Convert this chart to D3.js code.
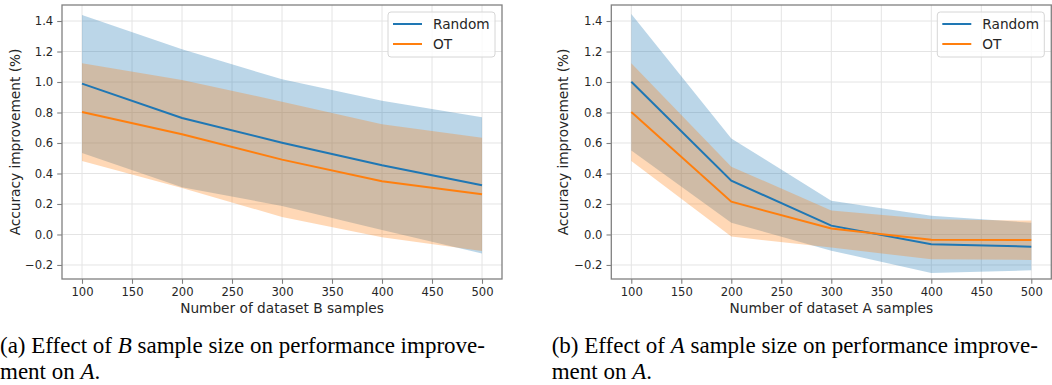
<!DOCTYPE html>
<html>
<head>
<meta charset="utf-8">
<script src="https://cdn.jsdelivr.net/npm/d3@7"></script>
<style>
  html, body { margin: 0; padding: 0; background: #fff; }
  svg { display: block; }
</style>
</head>
<body>
<svg id="chart" width="1052" height="385"></svg>
<script>
// ---------- data ----------
const xValues = [100, 200, 300, 400, 500];
const xTicks = [100, 150, 200, 250, 300, 350, 400, 450, 500];
const yTicks = [-0.2, 0.0, 0.2, 0.4, 0.6, 0.8, 1.0, 1.2, 1.4];
const seriesNames = ["Random", "OT"];

// Panel (a): varying dataset B samples
const randomMeanB  = [0.989, 0.764, 0.602, 0.454, 0.323];
const randomUpperB = [1.440, 1.214, 1.018, 0.877, 0.769];
const randomLowerB = [0.534, 0.310, 0.187, 0.030, -0.125];
const otMeanB      = [0.803, 0.657, 0.491, 0.349, 0.264];
const otUpperB     = [1.123, 1.013, 0.871, 0.723, 0.635];
const otLowerB     = [0.482, 0.305, 0.115, -0.018, -0.108];

// Panel (b): varying dataset A samples
const randomMeanA  = [1.002, 0.353, 0.058, -0.064, -0.080];
const randomUpperA = [1.446, 0.630, 0.222, 0.123, 0.077];
const randomLowerA = [0.550, 0.077, -0.106, -0.252, -0.235];
const otMeanA      = [0.803, 0.215, 0.039, -0.034, -0.036];
const otUpperA     = [1.123, 0.445, 0.157, 0.100, 0.091];
const otLowerA     = [0.482, -0.014, -0.085, -0.163, -0.167];

const xLabels = ["Number of dataset B samples", "Number of dataset A samples"];
const yLabel = "Accuracy improvement (%)";

// ---------- styles ----------
const colors = ["#1f77b4", "#ff7f0e"];
const textColor = "#262626";
const sans = "'DejaVu Sans', sans-serif";

const svg = d3.select("#chart");

const panels = [
  { left: 62, right: 502, yLabelX: 15,
    random: [randomMeanB, randomLowerB, randomUpperB],
    ot: [otMeanB, otLowerB, otUpperB], xLabel: xLabels[0] },
  { left: 611.3, right: 1051.3, yLabelX: 563,
    random: [randomMeanA, randomLowerA, randomUpperA],
    ot: [otMeanA, otLowerA, otUpperA], xLabel: xLabels[1] }
];
const plotTop = 5, plotBottom = 279;

panels.forEach(p => {
  const x = d3.scaleLinear().domain([80, 520]).range([p.left, p.right]);
  const y = d3.scaleLinear().domain([-0.292, 1.505]).range([plotBottom, plotTop]);
  const g = svg.append("g");

  // grid
  g.append("g").selectAll("line").data(xTicks).join("line")
    .attr("x1", d => x(d)).attr("x2", d => x(d))
    .attr("y1", plotTop).attr("y2", plotBottom)
    .attr("stroke", "#e4e4e4").attr("stroke-width", 1);
  g.append("g").selectAll("line").data(yTicks).join("line")
    .attr("x1", p.left).attr("x2", p.right)
    .attr("y1", d => y(d)).attr("y2", d => y(d))
    .attr("stroke", "#e4e4e4").attr("stroke-width", 1);

  const sets = [p.random, p.ot];
  // fills
  sets.forEach((s, i) => {
    const area = d3.area()
      .x((d, j) => x(xValues[j]))
      .y0((d, j) => y(s[1][j]))
      .y1((d, j) => y(s[2][j]));
    g.append("path").datum(xValues).attr("d", area)
      .attr("fill", colors[i]).attr("fill-opacity", 0.3);
  });
  // lines
  sets.forEach((s, i) => {
    const line = d3.line()
      .x((d, j) => x(xValues[j]))
      .y((d, j) => y(s[0][j]));
    g.append("path").datum(xValues).attr("d", line)
      .attr("fill", "none").attr("stroke", colors[i]).attr("stroke-width", 2);
  });

  // axes
  const xAxis = d3.axisBottom(x).tickValues(xTicks).tickSize(4.8).tickPadding(3.5)
    .tickFormat(d3.format("d"));
  const gx = g.append("g").attr("transform", `translate(0,${plotBottom})`).call(xAxis);
  const yAxis = d3.axisLeft(y).tickValues(yTicks).tickSize(4.8).tickPadding(4)
    .tickFormat(d => d3.format(".1f")(d).replace("-", "\u2212"));
  const gy = g.append("g").attr("transform", `translate(${p.left},0)`).call(yAxis);
  [gx, gy].forEach(a => {
    a.select(".domain").remove();
    a.selectAll(".tick line").attr("stroke", "#808080").attr("stroke-width", 1.1);
    a.selectAll(".tick text").attr("fill", textColor)
      .style("font-family", sans).style("font-size", "11.6px");
  });

  // frame
  g.append("rect").attr("x", p.left).attr("y", plotTop)
    .attr("width", p.right - p.left).attr("height", plotBottom - plotTop)
    .attr("fill", "none").attr("stroke", "#808080").attr("stroke-width", 1.3);

  // axis labels
  g.append("text").attr("x", (p.left + p.right) / 2).attr("y", 313)
    .attr("text-anchor", "middle").attr("fill", textColor)
    .style("font-family", sans).style("font-size", "13.7px").text(p.xLabel);
  g.append("text").attr("transform", `translate(${p.yLabelX + 5},${(plotTop + plotBottom) / 2}) rotate(-90)`)
    .attr("text-anchor", "middle").attr("fill", textColor)
    .style("font-family", sans).style("font-size", "13.7px").text(yLabel);

  // legend
  const lx = p.right - 114, ly = 12;
  const lg = g.append("g");
  lg.append("rect").attr("x", lx).attr("y", ly).attr("width", 107).attr("height", 45)
    .attr("rx", 3).attr("fill", "#fff").attr("fill-opacity", 0.8)
    .attr("stroke", "#d6d6d6").attr("stroke-width", 1);
  seriesNames.forEach((name, i) => {
    const yy = ly + 12 + i * 20;
    lg.append("line").attr("x1", lx + 5).attr("x2", lx + 34)
      .attr("y1", yy).attr("y2", yy).attr("stroke", colors[i]).attr("stroke-width", 2);
    lg.append("text").attr("x", lx + 45).attr("y", yy + 5).attr("fill", textColor)
      .style("font-family", sans).style("font-size", "13.7px").text(name);
  });
});

// captions
const serif = "'Liberation Serif', 'Times New Roman', serif";
const captions = [
  { x: 0, parts: [["(a) Effect of ", false], ["B", true], [" sample size on performance improve-", false]] },
  { x: 551.7, parts: [["(b) Effect of ", false], ["A", true], [" sample size on performance improve-", false]] }
];
captions.forEach(c => {
  const t = svg.append("text").attr("x", c.x).attr("y", 353)
    .style("font-family", serif).style("font-size", "23px").attr("fill", "#000");
  c.parts.forEach(([s, it]) => t.append("tspan").style("font-style", it ? "italic" : "normal").text(s));
  const t2 = svg.append("text").attr("x", c.x).attr("y", 379)
    .style("font-family", serif).style("font-size", "23px").attr("fill", "#000");
  t2.append("tspan").text("ment on ");
  t2.append("tspan").style("font-style", "italic").text("A");
  t2.append("tspan").text(".");
});
</script>
</body>
</html>
